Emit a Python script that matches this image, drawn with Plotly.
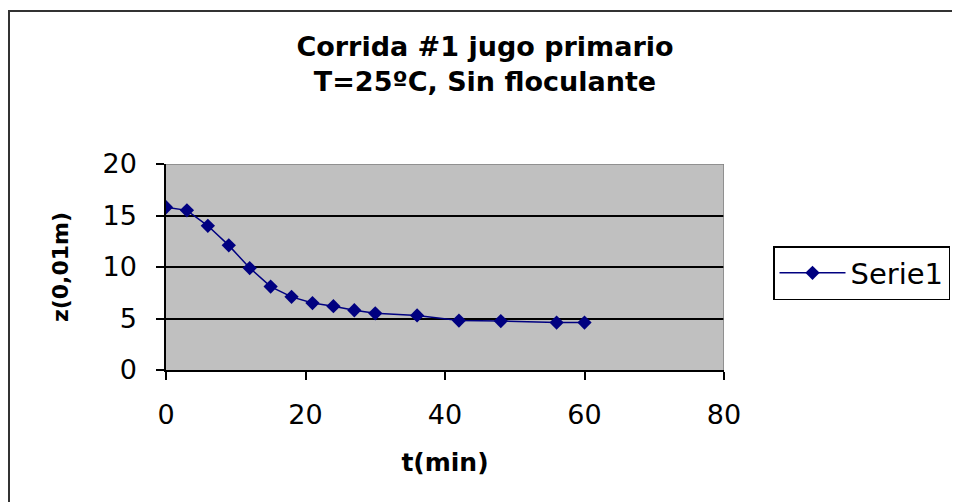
import plotly.graph_objects as go

t_min = [0, 3, 6, 9, 12, 15, 18, 21, 24, 27, 30, 36, 42, 48, 56, 60]
z_val = [15.8, 15.5, 14.0, 12.1, 9.9, 8.1, 7.1, 6.5, 6.2, 5.8, 5.5, 5.3, 4.8, 4.75, 4.6, 4.6]
series_name = "Serie1"
title_lines = ["Corrida #1 jugo primario", "T=25ºC, Sin floculante"]
x_title = "t(min)"
y_title = "z(0,01m)"
x_ticks = [0, 20, 40, 60, 80]
y_ticks = [0, 5, 10, 15, 20]

FONT = "DejaVu Sans"
W, H = 960, 502
OFF = 8  # page body margin offset
L, R, T, B = 166 - OFF, 236 + OFF, 164 - OFF, 132 + OFF
pw, ph = W - L - R, H - T - B

fig = go.Figure()
fig.add_trace(go.Scatter(
    x=t_min, y=z_val, name=series_name, mode="lines+markers",
    line=dict(color="#000080", width=1.5),
    marker=dict(symbol="diamond", size=11, color="#000080"),
))

def px_x(p):
    return (p - OFF - L) / pw

def px_y(p):
    return (H - B - (p - OFF)) / ph

fig.update_layout(
    width=W, height=H,
    margin=dict(l=L, r=R, t=T, b=B, pad=0),
    paper_bgcolor="white",
    plot_bgcolor="#C0C0C0",
    font=dict(family=FONT, color="black"),
    showlegend=True,
    title=dict(
        text="<b>" + title_lines[0] + "<br>" + title_lines[1] + "</b>",
        font=dict(family=FONT, size=27, color="black"),
        x=(485 - OFF) / W, xanchor="center", xref="container",
        y=1 - (56 - OFF) / H, yanchor="middle", yref="container",
    ),
    legend=dict(
        x=px_x(773), xanchor="left", y=px_y(246), yanchor="top",
        font=dict(family=FONT, size=29, color="black"),
        bgcolor="white", bordercolor="black", borderwidth=1.5,
        itemwidth=66,
    ),
    xaxis=dict(
        range=[0, 80], tickvals=x_ticks, showgrid=False, zeroline=False,
        showline=True, linecolor="black", linewidth=1.5,
        ticks="outside", ticklen=8, tickwidth=1.5, tickcolor="black",
        tickfont=dict(family=FONT, size=27, color="black"),
        ticklabelstandoff=12,
        title=dict(text="<b>" + x_title + "</b>", font=dict(family=FONT, size=25, color="black"), standoff=24),
    ),
    yaxis=dict(
        range=[0, 20], tickvals=y_ticks, showgrid=True, gridcolor="black", gridwidth=1.5,
        zeroline=False,
        showline=True, linecolor="black", linewidth=1.5,
        ticks="outside", ticklen=8, tickwidth=1.5, tickcolor="black",
        tickfont=dict(family=FONT, size=27, color="black"),
        ticklabelstandoff=14,
        title=dict(text="<b>" + y_title + "</b>", font=dict(family=FONT, size=22, color="black"), standoff=28),
    ),
)

# plot-area border (top and right, grey) and outer chart frame
fig.add_shape(type="line", xref="x", yref="y", x0=0, x1=80, y0=20, y1=20,
              line=dict(color="#808080", width=1.5), layer="above")
fig.add_shape(type="line", xref="x", yref="y", x0=80, x1=80, y0=0, y1=20,
              line=dict(color="#808080", width=1.5), layer="above")
fig.add_shape(type="rect", xref="paper", yref="paper",
              x0=px_x(OFF + 1), x1=px_x(1200), y0=px_y(700), y1=px_y(11),
              line=dict(color="#333333", width=2), fillcolor="rgba(0,0,0,0)", layer="above")

fig.write_html("out.html")
